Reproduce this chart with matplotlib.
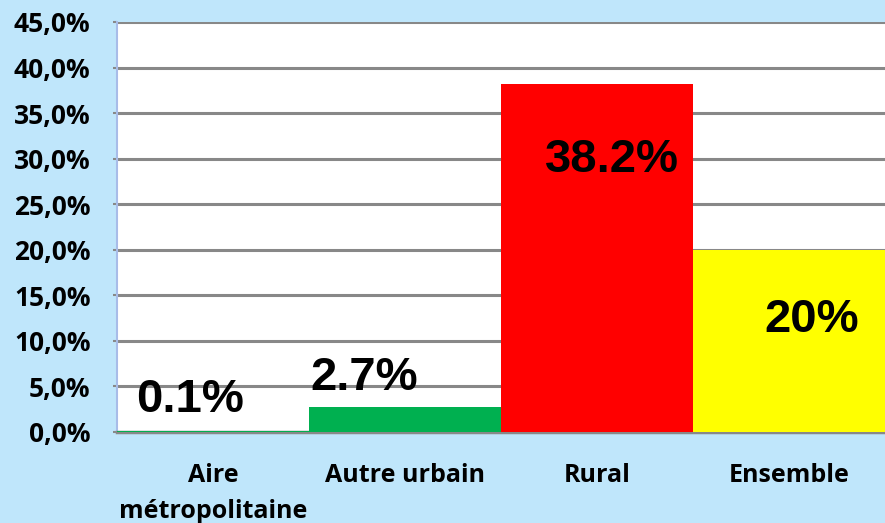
import matplotlib.pyplot as plt
from matplotlib.ticker import FuncFormatter

# donnees
categories = ['Aire\nmétropolitaine', 'Autre urbain', 'Rural', 'Ensemble']
valeurs = [0.1, 2.7, 38.2, 20.0]
etiquettes = ['0.1%', '2.7%', '38.2%', '20%']
couleurs = ['#00B050', '#00B050', '#FF0000', '#FFFF00']
# position des etiquettes (x en categorie, y en %)
etiq_x = [-0.12, 0.79, 2.08, 3.12]
etiq_y = [3.5, 5.9, 29.9, 12.3]

fig = plt.figure(figsize=(8.85, 5.23), dpi=100, facecolor='#BFE6FB')
ax = fig.add_axes([0.132, 0.174, 0.868, 0.784])
ax.set_facecolor('white')

x = range(len(categories))
ax.bar(x, valeurs, width=1.0, color=couleurs, zorder=6)

for i in range(len(etiquettes)):
    ax.text(etiq_x[i], etiq_y[i], etiquettes[i], ha='center', va='center',
            fontsize=34, fontweight='bold', family='Liberation Sans', zorder=7)

ax.set_xlim(-0.5, 3.5)
ax.set_ylim(0, 45)
ax.set_yticks(range(0, 46, 5))
ax.yaxis.set_major_formatter(FuncFormatter(lambda v, p: f'{v:.1f}%'.replace('.', ',')))
ax.set_xticks(list(x))
ax.set_xticklabels(categories, linespacing=1.6)

ax.grid(axis='y', color='#888888', linewidth=2.2, zorder=1)
ax.tick_params(axis='y', length=3, width=1.5, color='#888888', pad=16, labelsize=19)
ax.tick_params(axis='x', length=0, pad=22, labelsize=18)
for lab in ax.get_yticklabels() + ax.get_xticklabels():
    lab.set_fontweight('bold')
    lab.set_family('Open Sans')

ax.spines['top'].set_visible(False)
ax.spines['right'].set_visible(False)
ax.spines['left'].set_color('#A8BCE8')
ax.spines['left'].set_linewidth(1.5)
ax.spines['bottom'].set_color('#888888')
ax.spines['bottom'].set_linewidth(2.5)
ax.spines['bottom'].set_zorder(5)

plt.savefig('out.png', dpi=100, facecolor=fig.get_facecolor())
